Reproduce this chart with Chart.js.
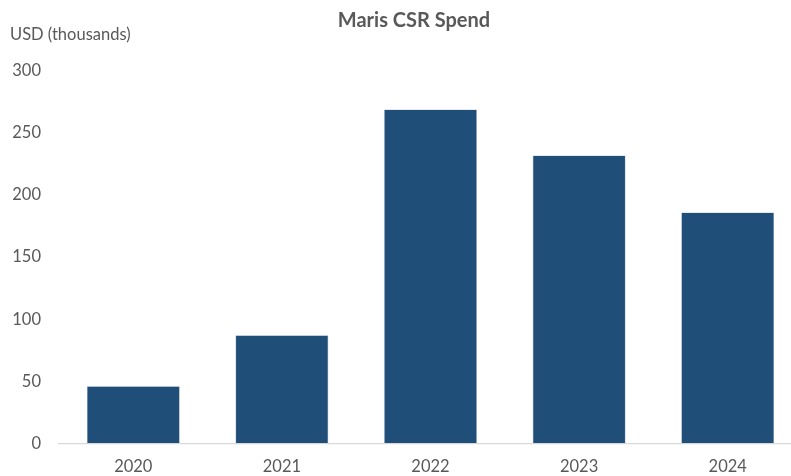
<!DOCTYPE html>
<html>
<head>
<meta charset="utf-8">
<script src="https://cdn.jsdelivr.net/npm/chart.js@4"></script>
<style>
  html, body { margin: 0; padding: 0; background: #ffffff; overflow: hidden; }
  #wrap { width: 791px; height: 476px; overflow: hidden; position: relative; }
  canvas { display: block; }
</style>
</head>
<body>
<div id="wrap"><canvas id="chart" width="802" height="476"></canvas></div>
<script>
const chartTitle = 'Maris CSR Spend';
const axisTitle = 'USD (thousands)';
const years = ['2020', '2021', '2022', '2023', '2024'];
const spend = [46, 87, 269, 232, 186];
const yTicks = [0, 50, 100, 150, 200, 250, 300];

const textColor = '#595959';
const barColor = '#1F4E79';
const fontFamily = 'Lato, "Open Sans", sans-serif';

// Chart title and the unit label above the value axis
const headerText = {
  id: 'headerText',
  afterDraw(chart) {
    const ctx = chart.ctx;
    ctx.save();
    ctx.fillStyle = textColor;
    ctx.textBaseline = 'middle';
    ctx.font = 'bold 20px ' + fontFamily;
    ctx.textAlign = 'center';
    ctx.fillText(chartTitle, 414, 21);
    ctx.font = '16.5px ' + fontFamily;
    ctx.textAlign = 'left';
    ctx.fillText(axisTitle, 10, 35);
    ctx.restore();
  }
};

new Chart(document.getElementById('chart'), {
  type: 'bar',
  data: {
    labels: years,
    datasets: [{
      data: spend,
      backgroundColor: barColor,
      borderColor: '#8FA6BE',
      borderWidth: 0.6,
      barPercentage: 0.625,
      categoryPercentage: 1.0
    }]
  },
  options: {
    responsive: false,
    animation: false,
    layout: { padding: { top: 71, left: 0, right: 0, bottom: 0 } },
    plugins: {
      legend: { display: false },
      title: { display: false },
      tooltip: { enabled: false }
    },
    scales: {
      x: {
        grid: { display: false, drawTicks: false },
        border: { display: true, color: '#D9D9D9', width: 1.3 },
        ticks: {
          color: textColor,
          font: { family: fontFamily, size: 16.5 },
          padding: 13
        },
        afterFit(scale) { scale.height = 32.7; }
      },
      y: {
        min: 0,
        max: 300,
        afterBuildTicks(scale) { scale.ticks = yTicks.map(v => ({ value: v })); },
        grid: { display: false, drawTicks: false },
        border: { display: false },
        ticks: {
          color: textColor,
          font: { family: fontFamily, size: 16.5 },
          padding: 18
        },
        afterFit(scale) { scale.width = 59; }
      }
    }
  },
  plugins: [headerText]
});
</script>
</body>
</html>
